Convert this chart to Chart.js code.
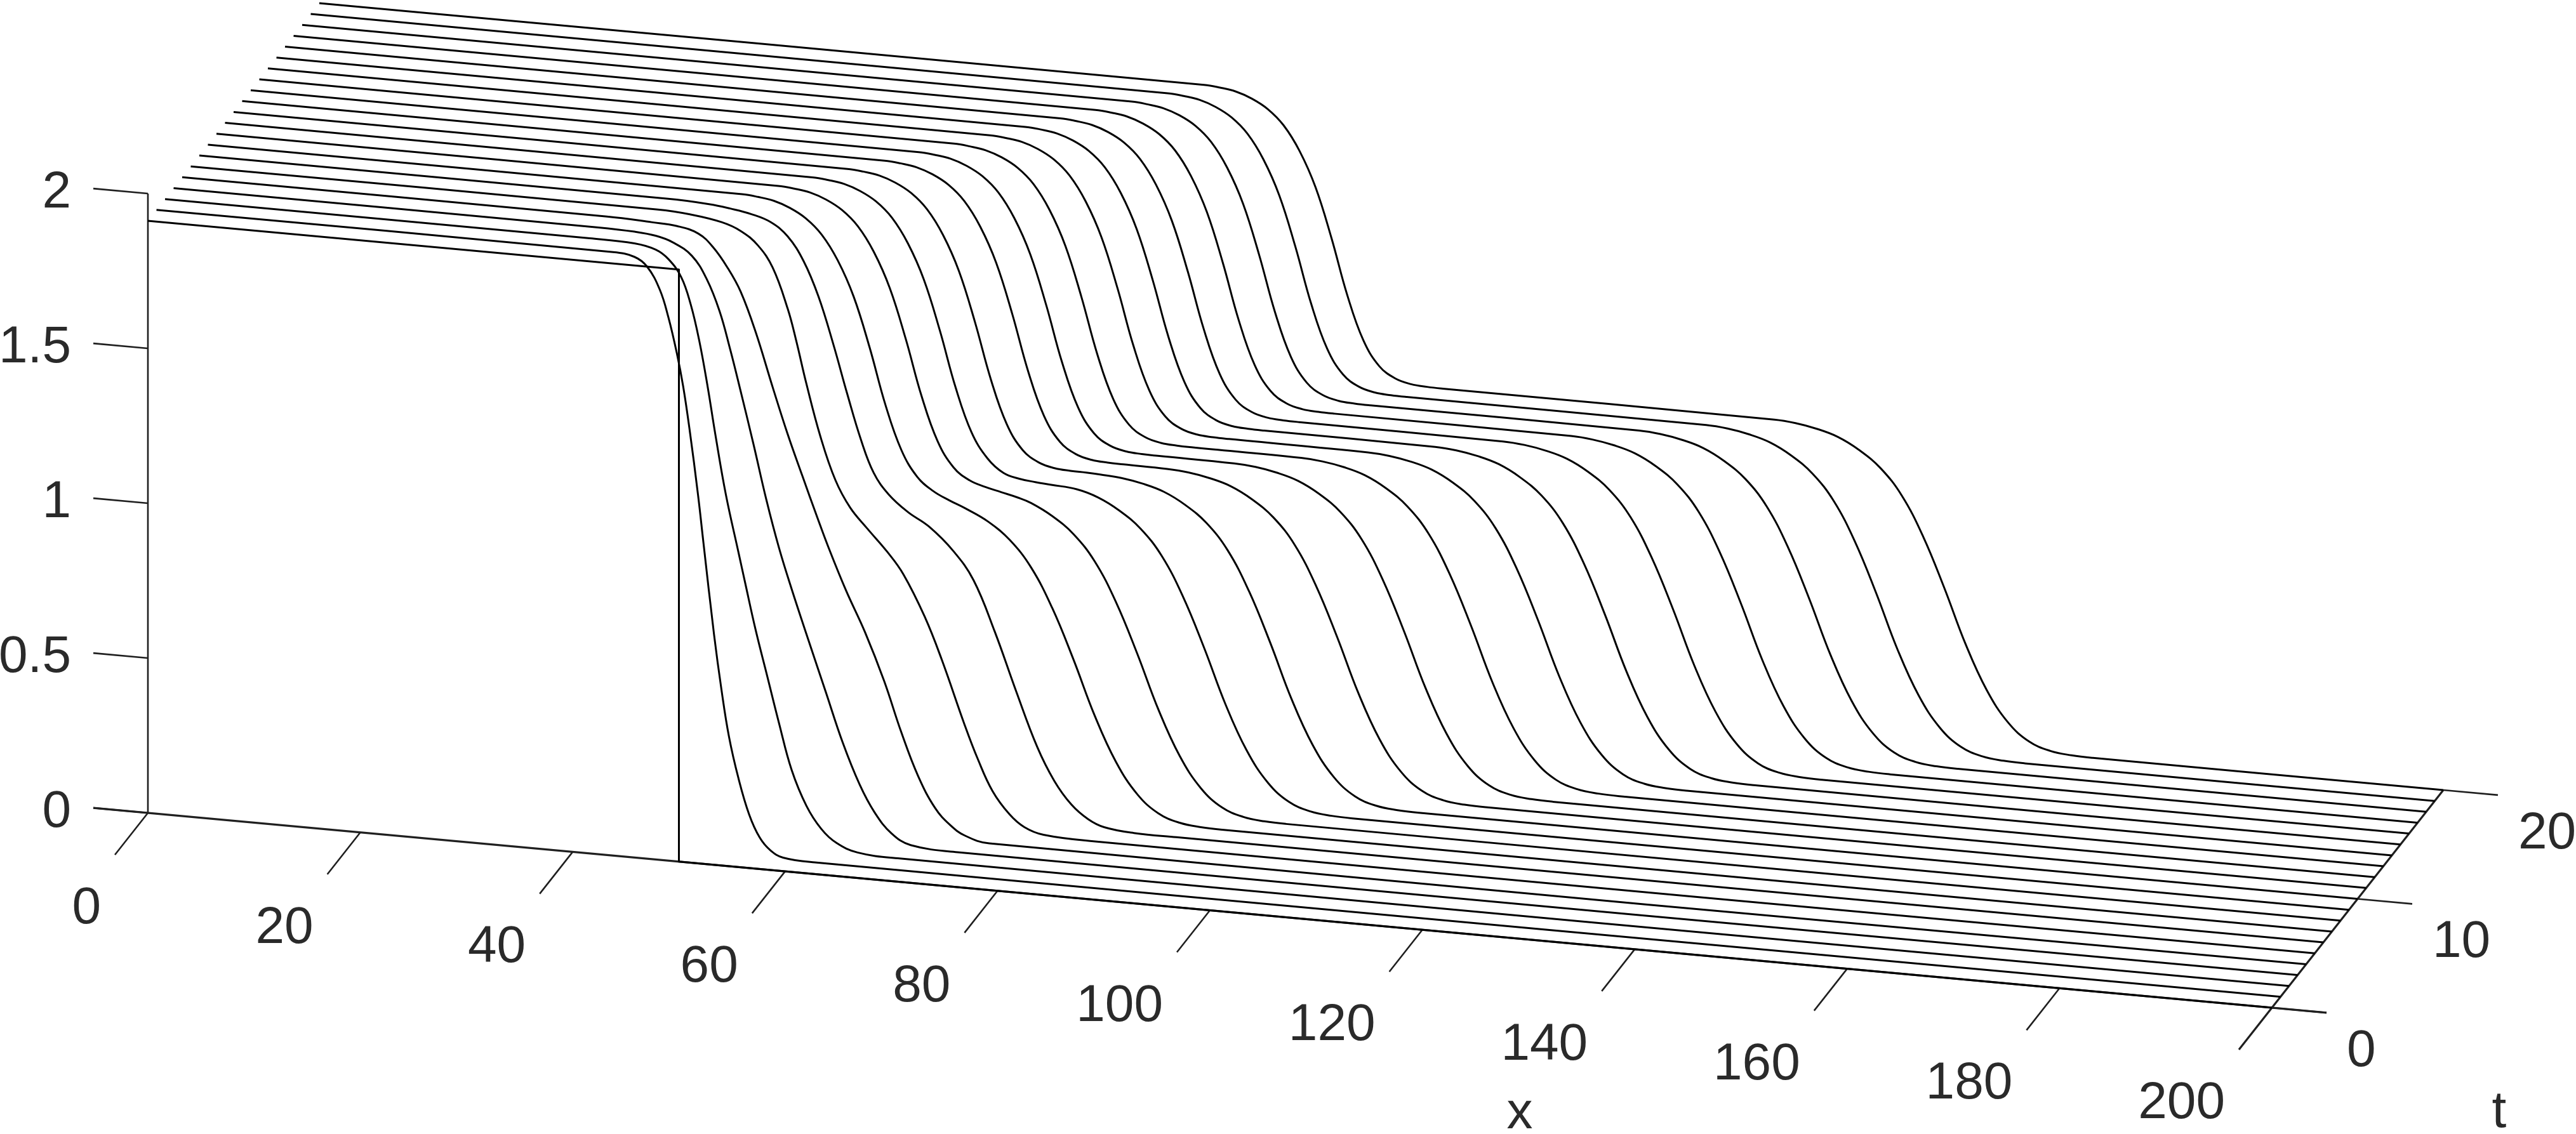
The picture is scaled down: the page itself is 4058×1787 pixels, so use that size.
<!DOCTYPE html>
<html>
<head>
<meta charset="utf-8">
<title>Waterfall</title>
<script src="https://cdn.jsdelivr.net/npm/chart.js@4"></script>
<style>
  html, body { margin: 0; padding: 0; background: #fff; }
  canvas { display: block; }
</style>
</head>
<body>
<canvas id="chart" width="4058" height="1787"></canvas>
<script>
const xTicks = [0, 20, 40, 60, 80, 100, 120, 140, 160, 180, 200];
const tTicks = [0, 10, 20];
const uTicks = [0, 0.5, 1, 1.5, 2];
const uTickLabels = ['0', '0.5', '1', '1.5', '2'];

// curves, one x list and one u list per time step
const x00 = [0, 50, 50, 200];
const u00 = [1.912, 1.912, 0, 0];
const x01 = [0, 43, 45, 46.2, 47.4, 48.2, 49, 49.6, 50.2, 51, 51.5, 52.5, 53.2, 53.9, 54.8, 55.8, 56.8, 57.8, 59, 62, 200];
const u01 = [1.912, 1.911, 1.902, 1.874, 1.803, 1.717, 1.603, 1.497, 1.36, 1.15, 1, 0.706, 0.53, 0.382, 0.249, 0.136, 0.064, 0.026, 0.006, 0, 0];
const x02 = [0, 40, 44.2, 46.2, 47.4, 48.6, 49.5, 50.3, 51.1, 51.8, 52.8, 54, 54.6, 55.6, 56.7, 57.8, 59, 60.4, 61.8, 63.2, 65.2, 69, 200];
const u02 = [1.912, 1.911, 1.908, 1.894, 1.867, 1.813, 1.727, 1.613, 1.465, 1.318, 1.125, 0.94, 0.848, 0.697, 0.55, 0.403, 0.254, 0.142, 0.072, 0.032, 0.007, 0, 0];
const x03 = [0, 40, 43.4, 45.4, 47, 48.8, 50.2, 51.4, 52.4, 53.3, 54.6, 55.8, 57, 58.2, 59.8, 61.4, 63, 64.6, 66, 67.6, 69.4, 74, 200];
const u03 = [1.912, 1.911, 1.908, 1.901, 1.885, 1.847, 1.776, 1.677, 1.557, 1.437, 1.257, 1.083, 0.93, 0.8, 0.638, 0.479, 0.32, 0.189, 0.104, 0.041, 0.009, 0, 0];
const x04 = [0, 40, 44.2, 46.6, 48.6, 50, 51.4, 52.6, 54, 55.6, 57, 58.4, 59.8, 60.8, 62.5, 64.3, 66.1, 67.7, 69.3, 70.9, 72.3, 73.7, 76, 200];
const u04 = [1.912, 1.911, 1.906, 1.901, 1.883, 1.843, 1.779, 1.707, 1.582, 1.409, 1.263, 1.131, 1.002, 0.913, 0.775, 0.645, 0.493, 0.334, 0.196, 0.098, 0.048, 0.018, 0, 0];
const x05 = [0, 44, 47, 50, 51.8, 53.4, 54.8, 56.2, 57, 57.95, 59.3, 60.7, 62.1, 63.7, 65.6, 67.1, 69.1, 70.7, 72.9, 74.1, 75.5, 77.1, 78.5, 80.3, 85, 200];
const u05 = [1.912, 1.911, 1.905, 1.889, 1.866, 1.825, 1.757, 1.63, 1.53, 1.395, 1.225, 1.09, 1.005, 0.943, 0.873, 0.806, 0.676, 0.543, 0.335, 0.232, 0.132, 0.062, 0.025, 0.006, 0, 0];
const x06 = [0, 44, 48, 50, 52, 53.8, 55.4, 56.9, 58.3, 59.7, 61, 62.3, 63.5, 64.9, 66.7, 68.7, 71, 72.9, 74.9, 76.9, 78.9, 80.5, 82.1, 83.7, 85.2, 88, 92, 200];
const u06 = [1.912, 1.911, 1.906, 1.898, 1.886, 1.866, 1.825, 1.75, 1.64, 1.49, 1.335, 1.19, 1.087, 1.022, 0.971, 0.93, 0.858, 0.77, 0.61, 0.425, 0.25, 0.146, 0.075, 0.032, 0.011, 0.001, 0, 0];
const x07 = [0, 50.3, 51.8, 53.3, 54.8, 56.3, 57.8, 59.3, 60.8, 62.3, 63.8, 65.3, 66.8, 68.3, 69.8, 71.3, 73.5, 75.5, 77.5, 79.5, 81.5, 83.5, 85.5, 87.5, 89.5, 91.5, 93.5, 95.5, 200];
const u07 = [1.912, 1.91, 1.906, 1.898, 1.88, 1.851, 1.803, 1.725, 1.613, 1.454, 1.272, 1.131, 1.049, 1.008, 0.983, 0.962, 0.925, 0.873, 0.791, 0.666, 0.506, 0.331, 0.188, 0.09, 0.034, 0.01, 0.002, 0, 0];
const x08 = [0, 52.9, 54.4, 55.9, 57.4, 58.9, 60.4, 61.9, 63.4, 64.9, 66.4, 67.9, 69.4, 70.9, 72.4, 73.9, 75.4, 76.7, 78.7, 80.7, 82.7, 84.7, 86.7, 88.7, 90.7, 92.7, 94.7, 96.7, 98.7, 100.7, 200];
const u08 = [1.912, 1.91, 1.906, 1.898, 1.88, 1.851, 1.803, 1.725, 1.613, 1.454, 1.273, 1.133, 1.053, 1.016, 0.999, 0.987, 0.975, 0.961, 0.925, 0.873, 0.791, 0.666, 0.506, 0.331, 0.188, 0.09, 0.034, 0.01, 0.002, 0, 0];
const x09 = [0, 55.3, 56.8, 58.3, 59.8, 61.3, 62.8, 64.3, 65.8, 67.3, 68.8, 70.3, 71.8, 73.3, 74.8, 76.3, 77.8, 80.2, 82.2, 84.2, 86.2, 88.2, 90.2, 92.2, 94.2, 96.2, 98.2, 100.2, 102.2, 104.2, 106.2, 200];
const u09 = [1.912, 1.91, 1.906, 1.898, 1.88, 1.851, 1.803, 1.725, 1.613, 1.454, 1.273, 1.133, 1.054, 1.012, 0.998, 0.992, 0.988, 0.981, 0.961, 0.925, 0.873, 0.791, 0.666, 0.506, 0.331, 0.188, 0.09, 0.034, 0.01, 0.002, 0, 0];

// from t = 10 on the two fronts keep their shape, so read x at the same heights
const lateLevels = [1.912, 1.91, 1.906, 1.898, 1.88, 1.851, 1.803, 1.725, 1.613, 1.454, 1.273, 1.133, 1.054, 1.019, 1.005, 1.001, 1, 0.998, 0.993, 0.981, 0.961, 0.925, 0.873, 0.791, 0.666, 0.506, 0.331, 0.188, 0.09, 0.034, 0.01, 0.002, 0, 0];
const x10 = [0, 57.8, 59.3, 60.8, 62.3, 63.8, 65.3, 66.8, 68.3, 69.8, 71.3, 72.8, 74.3, 75.8, 77.3, 78.8, 80.3, 81.6, 83.6, 85.6, 87.6, 89.6, 91.6, 93.6, 95.6, 97.6, 99.6, 101.6, 103.6, 105.6, 107.6, 109.6, 111.6, 200];
const x11 = [0, 60.5, 62, 63.5, 65, 66.5, 68, 69.5, 71, 72.5, 74, 75.5, 77, 78.5, 80, 81.5, 83, 87.1, 89.1, 91.1, 93.1, 95.1, 97.1, 99.1, 101.1, 103.1, 105.1, 107.1, 109.1, 111.1, 113.1, 115.1, 117.1, 200];
const x12 = [0, 62.9, 64.4, 65.9, 67.4, 68.9, 70.4, 71.9, 73.4, 74.9, 76.4, 77.9, 79.4, 80.9, 82.4, 83.9, 85.4, 92.6, 94.6, 96.6, 98.6, 100.6, 102.6, 104.6, 106.6, 108.6, 110.6, 112.6, 114.6, 116.6, 118.6, 120.6, 122.6, 200];
const x13 = [0, 65.4, 66.9, 68.4, 69.9, 71.4, 72.9, 74.4, 75.9, 77.4, 78.9, 80.4, 81.9, 83.4, 84.9, 86.4, 87.9, 98.1, 100.1, 102.1, 104.1, 106.1, 108.1, 110.1, 112.1, 114.1, 116.1, 118.1, 120.1, 122.1, 124.1, 126.1, 128.1, 200];
const x14 = [0, 68, 69.5, 71, 72.5, 74, 75.5, 77, 78.5, 80, 81.5, 83, 84.5, 86, 87.5, 89, 90.5, 103.6, 105.6, 107.6, 109.6, 111.6, 113.6, 115.6, 117.6, 119.6, 121.6, 123.6, 125.6, 127.6, 129.6, 131.6, 133.6, 200];
const x15 = [0, 70.5, 72, 73.5, 75, 76.5, 78, 79.5, 81, 82.5, 84, 85.5, 87, 88.5, 90, 91.5, 93, 109.1, 111.1, 113.1, 115.1, 117.1, 119.1, 121.1, 123.1, 125.1, 127.1, 129.1, 131.1, 133.1, 135.1, 137.1, 139.1, 200];
const x16 = [0, 73, 74.5, 76, 77.5, 79, 80.5, 82, 83.5, 85, 86.5, 88, 89.5, 91, 92.5, 94, 95.5, 114.7, 116.7, 118.7, 120.7, 122.7, 124.7, 126.7, 128.7, 130.7, 132.7, 134.7, 136.7, 138.7, 140.7, 142.7, 144.7, 200];
const x17 = [0, 75.5, 77, 78.5, 80, 81.5, 83, 84.5, 86, 87.5, 89, 90.5, 92, 93.5, 95, 96.5, 98, 120.3, 122.3, 124.3, 126.3, 128.3, 130.3, 132.3, 134.3, 136.3, 138.3, 140.3, 142.3, 144.3, 146.3, 148.3, 150.3, 200];
const x18 = [0, 78.1, 79.6, 81.1, 82.6, 84.1, 85.6, 87.1, 88.6, 90.1, 91.6, 93.1, 94.6, 96.1, 97.6, 99.1, 100.6, 125.9, 127.9, 129.9, 131.9, 133.9, 135.9, 137.9, 139.9, 141.9, 143.9, 145.9, 147.9, 149.9, 151.9, 153.9, 155.9, 200];
const x19 = [0, 80.7, 82.2, 83.7, 85.2, 86.7, 88.2, 89.7, 91.2, 92.7, 94.2, 95.7, 97.2, 98.7, 100.2, 101.7, 103.2, 131.4, 133.4, 135.4, 137.4, 139.4, 141.4, 143.4, 145.4, 147.4, 149.4, 151.4, 153.4, 155.4, 157.4, 159.4, 161.4, 200];
const x20 = [0, 83.3, 84.8, 86.3, 87.8, 89.3, 90.8, 92.3, 93.8, 95.3, 96.8, 98.3, 99.8, 101.3, 102.8, 104.3, 105.8, 137, 139, 141, 143, 145, 147, 149, 151, 153, 155, 157, 159, 161, 163, 165, 167, 200];

const curveX = [x00, x01, x02, x03, x04, x05, x06, x07, x08, x09, x10, x11, x12, x13, x14, x15, x16, x17, x18, x19, x20];
const curveU = [u00, u01, u02, u03, u04, u05, u06, u07, u08, u09];

// view of the (x, t, u) box on the page
const viewX = { origin: 233, perX: 16.73, perT: 13.5 };
const viewY = { origin: 1281, perX: 1.535, perT: -17.15, perU: -488 };

function project(x, t, u) {
    return {
        x: viewX.origin + viewX.perX * x + viewX.perT * t,
        y: viewY.origin + viewY.perX * x + viewY.perT * t + viewY.perU * u
    };
}

const xOverhang = 5.14; // length of the u and t ticks, in x units
const tOverhang = 3.85; // length of the x ticks, in t units
const datasets = [];

function addLine(points, width, color, tension) {
    datasets.push({
        data: points,
        showLine: true,
        pointRadius: 0,
        borderWidth: width,
        borderColor: color,
        borderCapStyle: 'butt',
        borderJoinStyle: 'round',
        tension: tension,
        clip: false
    });
}

curveX.forEach((xs, t) => {
    const us = t < 10 ? curveU[t] : lateLevels;
    addLine(xs.map((x, i) => project(x, t, us[i])), 3, '#000', t > 0 ? 0.4 : 0);
});

// box edges and ticks
const axisColor = '#1f1f1f';
addLine([project(-xOverhang, 0, 0), project(200 + xOverhang, 0, 0)], 3.2, axisColor, 0);
addLine([project(0, 0, 0), project(0, 0, 2)], 2.6, axisColor, 0);
addLine([project(200, -tOverhang, 0), project(200, 20, 0)], 3.2, axisColor, 0);
xTicks.forEach(x => {
    if (x < 200) addLine([project(x, 0, 0), project(x, -tOverhang, 0)], 2.6, axisColor, 0);
});
tTicks.forEach(t => {
    addLine([project(200, t, 0), project(200 + xOverhang, t, 0)], 2.6, axisColor, 0);
});
uTicks.forEach(u => {
    addLine([project(0, 0, u), project(-xOverhang, 0, u)], 2.6, axisColor, 0);
});

const tickLabels = {
    id: 'tickLabels',
    afterDatasetsDraw(chart) {
        const ctx = chart.ctx;
        const sx = chart.scales.x;
        const sy = chart.scales.y;
        const put = (text, p, dx, dy, align) => {
            ctx.textAlign = align;
            ctx.fillText(text, sx.getPixelForValue(p.x) + dx, sy.getPixelForValue(p.y) + dy);
        };
        ctx.save();
        ctx.font = '82px "Liberation Sans"';
        ctx.fillStyle = '#2a2a2a';
        ctx.textBaseline = 'alphabetic';
        uTicks.forEach((u, i) => put(uTickLabels[i], project(-xOverhang, 0, u), -35, 30, 'right'));
        xTicks.forEach(x => put(String(x), project(x, -tOverhang, 0), -22, 108, 'right'));
        tTicks.forEach(t => put(String(t), project(200 + xOverhang, t, 0), 32, 84, 'left'));
        put('x', { x: 2394, y: 1778 }, 0, 0, 'center');
        put('t', { x: 3937, y: 1776 }, 0, 0, 'center');
        ctx.restore();
    }
};

new Chart(document.getElementById('chart').getContext('2d'), {
    type: 'scatter',
    data: { datasets },
    options: {
        responsive: false,
        animation: false,
        layout: { padding: 0 },
        plugins: { legend: { display: false }, tooltip: { enabled: false } },
        scales: {
            x: { type: 'linear', min: 0, max: 4058, display: false },
            y: { type: 'linear', min: 0, max: 1787, reverse: true, display: false }
        }
    },
    plugins: [tickLabels]
});
</script>
</body>
</html>
